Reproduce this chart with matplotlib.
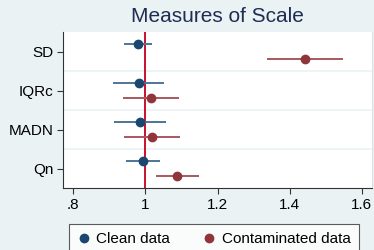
import matplotlib
matplotlib.use("Agg")
import matplotlib.pyplot as plt
from matplotlib.lines import Line2D

plt.rcParams['font.family'] = ['Liberation Sans', 'DejaVu Sans']

categories = ["SD", "IQRc", "MADN", "Qn"]
clean_est = [0.981, 0.983, 0.986, 0.994]
clean_lo = [0.942, 0.911, 0.914, 0.947]
clean_hi = [1.019, 1.053, 1.058, 1.041]
cont_est = [1.443, 1.017, 1.019, 1.089]
cont_lo = [1.337, 0.939, 0.942, 1.030]
cont_hi = [1.548, 1.094, 1.097, 1.149]
xticks = [0.8, 1.0, 1.2, 1.4, 1.6]
xticklabels = [".8", "1", "1.2", "1.4", "1.6"]

bg = "#EAF2F3"
fig = plt.figure(figsize=(3.74, 2.5), dpi=100, facecolor=bg)
ax = fig.add_axes([63/374, 1-188/250, (372-63)/374, (188-32)/250])
ax.set_facecolor("white")

pos = list(range(1, len(categories)+1))
off = 0.18
c_clean, c_clean_ci = "#1A476F", "#4E7597"
c_cont, c_cont_ci = "#90353B", "#A8585E"

for i, p in enumerate(pos):
    ax.plot([clean_lo[i], clean_hi[i]], [p-off, p-off], color=c_clean_ci, lw=1.4, zorder=3, solid_capstyle='butt')
    ax.plot([cont_lo[i], cont_hi[i]], [p+off, p+off], color=c_cont_ci, lw=1.4, zorder=3, solid_capstyle='butt')
ax.plot(clean_est, [p-off for p in pos], 'o', color=c_clean, ms=6, zorder=4)
ax.plot(cont_est, [p+off for p in pos], 'o', color=c_cont, ms=6, zorder=4)

ax.axvline(1.0, color="#C8102E", lw=1.4, zorder=2)
for g in [1.5, 2.5, 3.5]:
    ax.axhline(g, color=bg, lw=1.2, zorder=1)

ax.set_xlim(0.772, 1.628)
ax.set_ylim(4.5, 0.5)
ax.set_yticks(pos)
ax.set_yticklabels(categories)
ax.set_xticks(xticks)
ax.set_xticklabels(xticklabels)
ax.tick_params(axis='both', labelsize=11, color="#333333", length=4, width=0.8, pad=3)
for s in ["top"]:
    ax.spines[s].set_visible(False)
for s in ["left", "bottom"]:
    ax.spines[s].set_color("#333333")
    ax.spines[s].set_linewidth(0.8)
ax.spines["right"].set_color("#DDDDDD")
ax.spines["right"].set_linewidth(0.6)

fig.text((63+372)/2/374, 1-16/250, "Measures of Scale", ha="center", va="center",
         fontsize=15, color="#1E2D53")

handles = [Line2D([], [], marker='o', ls='none', color=c_clean, ms=6),
           Line2D([], [], marker='o', ls='none', color=c_cont, ms=6)]
leg = fig.legend(handles, ["Clean data", "Contaminated data"], loc="upper left",
                 bbox_to_anchor=(69/374, 1-224/250), ncol=2, fontsize=11,
                 frameon=True, fancybox=False, edgecolor="#333333",
                 handletextpad=0.45, columnspacing=2.1, borderpad=0.55, handlelength=0.8,
                 borderaxespad=0)
leg.get_frame().set_linewidth(0.8)

fig.savefig("out.png", dpi=100, facecolor=bg)
